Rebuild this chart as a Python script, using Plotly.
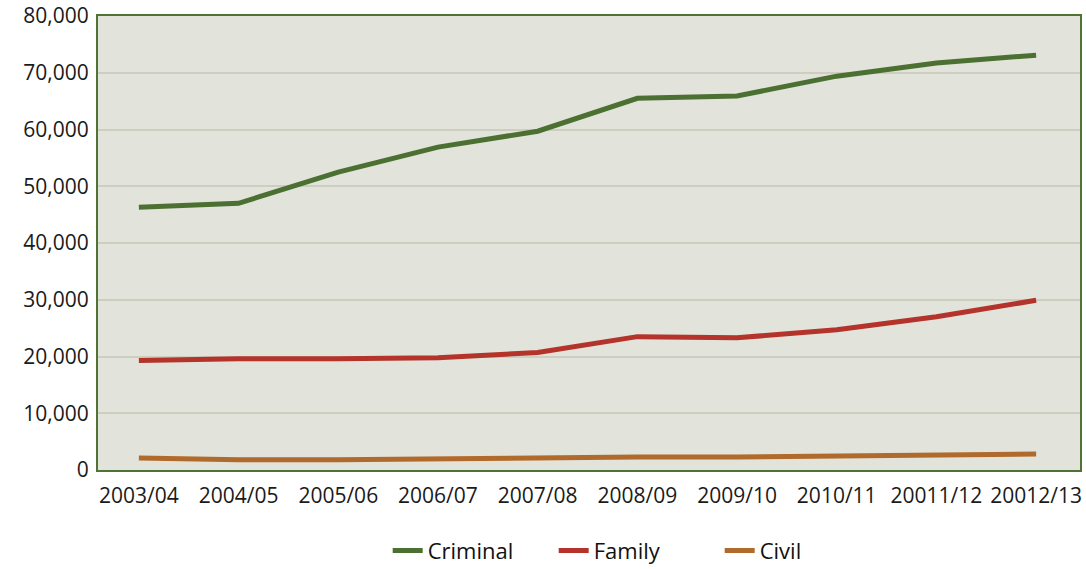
import plotly.graph_objects as go

years = ["2003/04", "2004/05", "2005/06", "2006/07", "2007/08",
         "2008/09", "2009/10", "2010/11", "20011/12", "20012/13"]
criminal = [46300, 47000, 52500, 56900, 59700, 65500, 65900, 69400, 71700, 73100]
family = [19300, 19600, 19600, 19800, 20700, 23500, 23300, 24700, 27000, 29900]
civil = [2100, 1800, 1800, 2000, 2300, 2300, 2300, 2500, 2800, 2800]

series = [("Criminal", criminal, "#4b7031"),
          ("Family", family, "#b4332b"),
          ("Civil", civil, "#b06a2b")]

x_idx = list(range(len(years)))

fig = go.Figure()
for name, vals, color in series:
    fig.add_trace(go.Scatter(x=x_idx, y=vals, name=name, mode="lines",
                             line=dict(color=color, width=5)))

tick_font = dict(family="Open Sans, sans-serif", size=21, color="#1a1a1a")
fig.update_layout(
    width=1086, height=569,
    margin=dict(l=98, r=6, t=16, b=99),
    paper_bgcolor="white",
    plot_bgcolor="#e2e3db",
    showlegend=True,
    legend=dict(orientation="h", x=0.295, xanchor="left", xref="paper",
                y=0.032, yanchor="middle", yref="container",
                font=dict(family="Open Sans, sans-serif", size=22, color="#111111"),
                itemwidth=30, traceorder="normal", entrywidth=121, entrywidthmode="pixels"),
    xaxis=dict(range=[-0.41, 9.44], tickmode="array", tickvals=x_idx, ticktext=years,
               showgrid=False, zeroline=False, showline=True, linecolor="#4d7434",
               linewidth=2, mirror=True, tickfont=tick_font, ticks="outside",
               ticklen=6, tickcolor="rgba(0,0,0,0)", automargin=False),
    yaxis=dict(range=[0, 80000], dtick=10000, tickformat=",", showgrid=True,
               gridcolor="#cdcebf", gridwidth=2, zeroline=False, showline=True,
               linecolor="#4d7434", linewidth=2, mirror=True, tickfont=tick_font,
               ticks="outside", ticklen=3, tickcolor="rgba(0,0,0,0)", automargin=False),
)

fig.write_html("out.html")
